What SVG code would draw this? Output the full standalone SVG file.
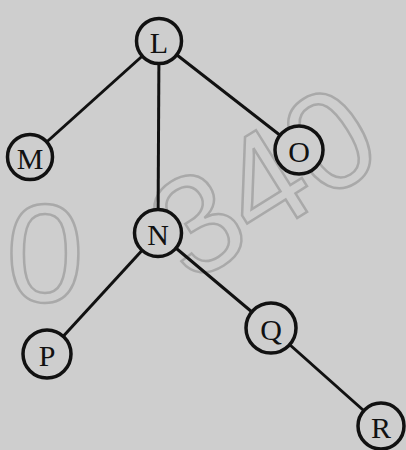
<svg xmlns="http://www.w3.org/2000/svg" width="406" height="450" viewBox="0 0 406 450">
<style>
.bg{fill:#cecece}
.wm{fill:none;stroke:#a9a9a9;stroke-width:2.5;font-family:"Liberation Sans",Arial,sans-serif;font-size:140px}
.edge{stroke:#111;stroke-width:3;fill:none}
.node circle{fill:#cecece;stroke:#111;stroke-width:3.5}
.node text{font-family:"Liberation Serif","Times New Roman",serif;font-size:30px;fill:#111;text-anchor:middle;dominant-baseline:central}
</style>
<rect class="bg" width="406" height="450"/>
<g id="watermark">
<text class="wm" transform="translate(190,285) rotate(-32)">340</text>
<text class="wm" x="6" y="302" font-size="76">0</text>
</g>
<g id="connectors">
<line class="edge" x1="159" y1="41" x2="30" y2="157"/>
<line class="edge" x1="159" y1="41" x2="299" y2="150"/>
<line class="edge" x1="159" y1="41" x2="158" y2="233"/>
<line class="edge" x1="158" y1="233" x2="47" y2="354"/>
<line class="edge" x1="158" y1="233" x2="271" y2="328"/>
<line class="edge" x1="271" y1="328" x2="381" y2="426"/>
</g>
<g id="node-L" class="node"><circle cx="159" cy="41" r="22.5"/><text x="159" y="42">L</text></g>
<g id="node-M" class="node"><circle cx="30" cy="157" r="22.5"/><text x="30" y="158">M</text></g>
<g id="node-O" class="node"><circle cx="299" cy="150" r="24"/><text x="299" y="151">O</text></g>
<g id="node-N" class="node"><circle cx="158" cy="233" r="23.5"/><text x="158" y="234">N</text></g>
<g id="node-P" class="node"><circle cx="47" cy="354" r="24"/><text x="47" y="355">P</text></g>
<g id="node-Q" class="node"><circle cx="271" cy="328" r="25"/><text x="271" y="329">Q</text></g>
<g id="node-R" class="node"><circle cx="381" cy="426" r="23"/><text x="381" y="427">R</text></g>
</svg>
